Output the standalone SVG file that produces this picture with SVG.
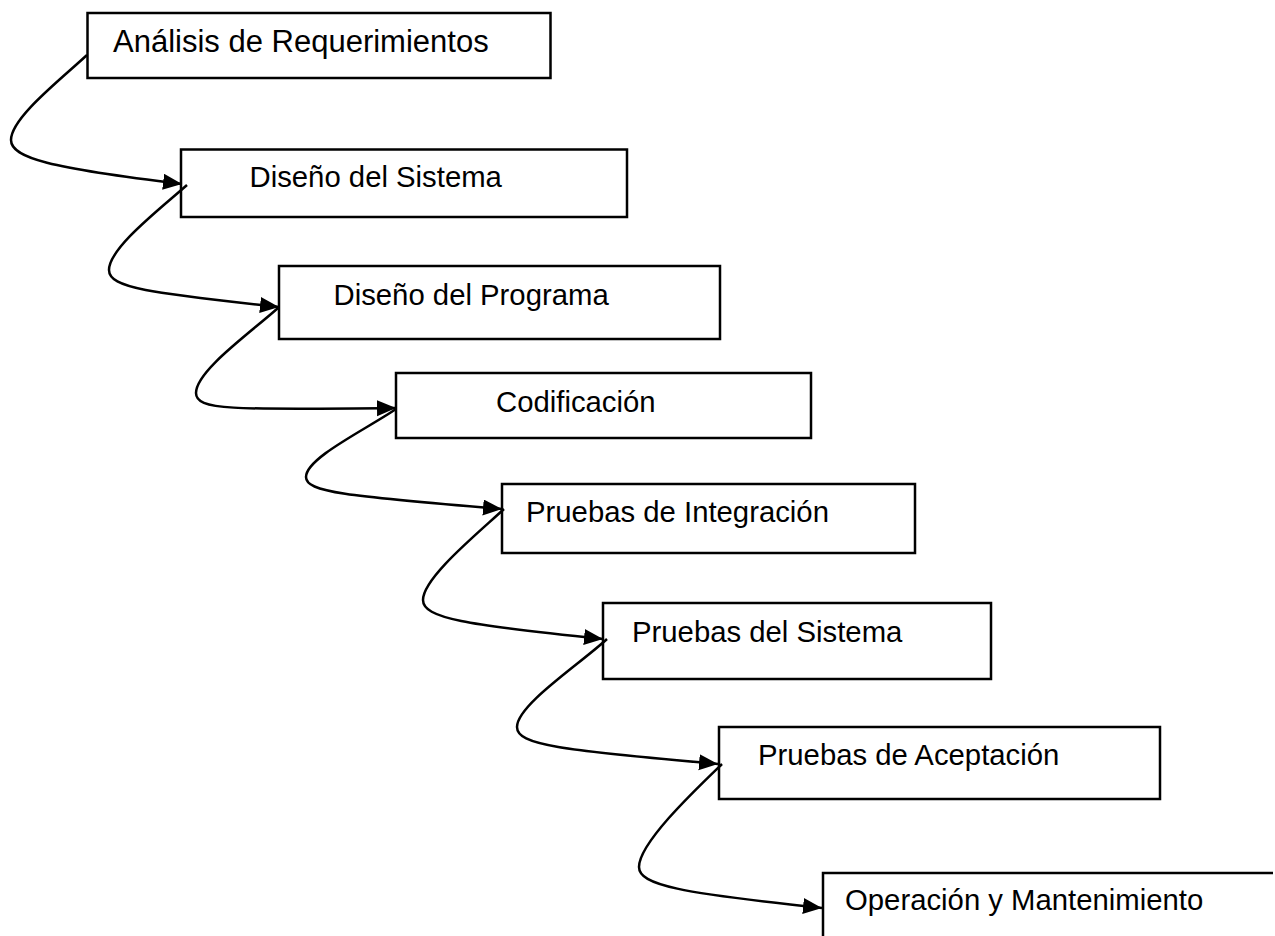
<svg xmlns="http://www.w3.org/2000/svg" width="1275" height="936" viewBox="0 0 1275 936">
<style>
  .box { fill: #ffffff; stroke: #000000; stroke-width: 2.5; }
  .open { fill: none; stroke: #000000; stroke-width: 2.5; }
  .lbl { font-family: "Liberation Sans", Arial, sans-serif; font-size: 29.3px; fill: #000000; }
  .big { font-size: 31px; }
  .conn { fill: none; stroke: #000000; stroke-width: 2.5; marker-end: url(#arrow); }
</style>
<defs>
  <marker id="arrow" markerUnits="userSpaceOnUse" markerWidth="22" markerHeight="18" refX="19" refY="8" orient="auto">
    <path d="M0,0 L19,8 L0,16 Z" fill="#000000"/>
  </marker>
</defs>
<rect x="0" y="0" width="1275" height="936" fill="#ffffff"/>
<g id="n1">
  <rect class="box" x="87.5" y="13" width="463" height="65"/>
  <text class="lbl big" x="113" y="52">Análisis de Requerimientos</text>
</g>
<g id="n2">
  <rect class="box" x="181" y="149.5" width="446" height="67.5"/>
  <text class="lbl" x="249.5" y="187">Diseño del Sistema</text>
</g>
<g id="n3">
  <rect class="box" x="279" y="266" width="441" height="73"/>
  <text class="lbl" x="333.5" y="305">Diseño del Programa</text>
</g>
<g id="n4">
  <rect class="box" x="396" y="373" width="415" height="65"/>
  <text class="lbl" x="496" y="412">Codificación</text>
</g>
<g id="n5">
  <rect class="box" x="502" y="484" width="413" height="69"/>
  <text class="lbl" x="526" y="522">Pruebas de Integración</text>
</g>
<g id="n6">
  <rect class="box" x="603" y="603" width="388" height="76"/>
  <text class="lbl" x="632" y="642">Pruebas del Sistema</text>
</g>
<g id="n7">
  <rect class="box" x="719" y="727" width="441" height="72"/>
  <text class="lbl" x="758" y="765">Pruebas de Aceptación</text>
</g>
<g id="n8">
  <path class="open" d="M823,940 V873 H1273"/>
  <text class="lbl" x="845" y="910">Operación y Mantenimiento</text>
</g>
<g id="connectors">
  <path class="conn" d="M87,55 C60,80 11,118 11,140 C11,158 50,168 182,184"/>
  <path class="conn" d="M187,185 C160,209 109,248 109,270 C109,288 150,293 279,307"/>
  <path class="conn" d="M278,308 C250,333 196,371 196,393 C196,410 230,410 396,408"/>
  <path class="conn" d="M396,409 C365,430 306,458 306,477 C306,492 345,496 502,509"/>
  <path class="conn" d="M504,509 C477,534 423,578 423,600 C423,618 465,625 603,639"/>
  <path class="conn" d="M607,639 C580,664 517,705 517,727 C517,745 560,750 718,764"/>
  <path class="conn" d="M722,764 C695,790 639,843 639,867 C639,885 680,893 822,908"/>
</g>
</svg>
